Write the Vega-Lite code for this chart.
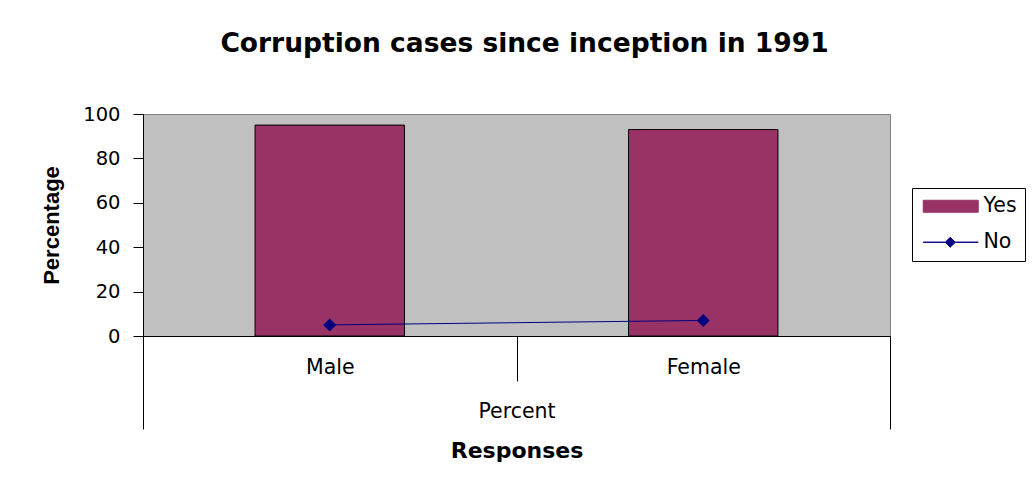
{
  "$schema": "https://vega.github.io/schema/vega-lite/v6.json",
  "width": 747,
  "height": 222,
  "autosize": {"type": "none"},
  "padding": {"left": 143, "top": 114, "right": 142, "bottom": 150},
  "background": "white",
  "title": {
    "text": "Corruption cases since inception in 1991",
    "font": "DejaVu Sans",
    "fontSize": 26.5,
    "fontWeight": "bold",
    "color": "black",
    "anchor": "middle",
    "frame": "group",
    "offset": 26,
    "baseline": "alphabetic",
    "dx": 8
  },
  "config": {
    "view": {"fill": "#C0C0C0", "stroke": "#808080", "strokeWidth": 1},
    "axis": {
      "grid": false,
      "domainColor": "black",
      "tickColor": "black",
      "labelColor": "black",
      "titleColor": "black",
      "domainWidth": 1,
      "tickWidth": 1
    }
  },
  "data": {
    "values": [
      {"gender": "Male", "response": "Yes", "value": 95, "group": "Percent"},
      {"gender": "Female", "response": "Yes", "value": 93, "group": "Percent"},
      {"gender": "Male", "response": "No", "value": 5, "group": "Percent"},
      {"gender": "Female", "response": "No", "value": 7, "group": "Percent"}
    ]
  },
  "layer": [
    {
      "layer": [
        {
          "transform": [{"filter": "datum.response === 'Yes'"}],
          "mark": {"type": "bar", "stroke": "black", "strokeWidth": 1, "width": {"band": 0.4}},
          "encoding": {
            "x": {
              "field": "gender",
              "type": "nominal",
              "sort": ["Male", "Female"],
              "scale": {"paddingInner": 0, "paddingOuter": 0},
              "axis": {
                "title": null,
                "orient": "bottom",
                "tickBand": "extent",
                "tickSize": 45,
                "labelPadding": -24,
                "labelFont": "DejaVu Sans",
                "labelFontSize": 20.5,
                "labelAngle": 0
              }
            },
            "y": {
              "field": "value",
              "type": "quantitative",
              "title": "Percentage",
              "scale": {"domain": [0, 100], "nice": false},
              "axis": {
                "values": [0, 20, 40, 60, 80, 100],
                "tickSize": 10,
                "labelPadding": 13,
                "labelFont": "DejaVu Sans",
                "labelFontSize": 19.5,
                "titleFont": "Liberation Sans",
                "titleFontSize": 22,
                "titleFontWeight": "bold",
                "titlePadding": 19
              }
            },
            "color": {
              "field": "response",
              "type": "nominal",
              "scale": {"domain": ["Yes", "No"], "range": ["#993366", "#000080"]},
              "legend": {
                "title": null,
                "orient": "none",
                "legendX": 769,
                "legendY": 74,
                "strokeColor": "black",
                "fillColor": "white",
                "padding": 8,
                "labelFont": "DejaVu Sans",
                "labelFontSize": 20.5,
                "labelColor": "black",
                "labelExpr": "datum.label + '\u00a0\u00a0'",
                "symbolSize": 144,
                "rowPadding": 15,
                "labelOffset": 43,
                "encoding": {
                  "symbols": {
                    "shape": {"value": {"expr": "datum.value === 'Yes' ? 'M-1.17,-1H8V1H-1.17Z' : 'M-1.17,0H2.5L3.33,-0.83L4.17,0H8H4.17L3.33,0.83L2.5,0Z'"}},
                    "fill": {"value": {"expr": "datum.value === 'Yes' ? '#993366' : '#000080'"}},
                    "stroke": {"value": {"expr": "datum.value === 'Yes' ? 'black' : '#000080'"}},
                    "strokeWidth": {"value": 1},
                    "opacity": {"value": 1}
                  }
                }
              }
            }
          }
        },
        {
          "transform": [{"filter": "datum.response === 'No'"}],
          "mark": {
            "type": "line",
            "strokeWidth": 1,
            "point": {"shape": "diamond", "size": 170, "filled": true}
          },
          "encoding": {
            "x": {"field": "gender", "type": "nominal", "sort": ["Male", "Female"]},
            "y": {"field": "value", "type": "quantitative", "title": "Percentage"},
            "color": {"field": "response", "type": "nominal"}
          }
        }
      ]
    },
    {
      "mark": {"type": "point", "opacity": 0},
      "encoding": {
        "x": {
          "field": "group",
          "type": "nominal",
          "scale": {"type": "band", "paddingInner": 0, "paddingOuter": 0},
          "axis": {
            "title": "Responses",
            "orient": "bottom",
            "tickBand": "extent",
            "tickSize": 93,
            "domain": false,
            "labelPadding": -28,
            "labelFont": "DejaVu Sans",
            "labelFontSize": 20.5,
            "labelAngle": 0,
            "titleFont": "DejaVu Sans",
            "titleFontSize": 22,
            "titleFontWeight": "bold",
            "titlePadding": 11
          }
        },
        "y": {"field": "value", "type": "quantitative", "title": "Percentage"}
      }
    }
  ],
  "resolve": {"scale": {"x": "independent"}, "axis": {"x": "independent"}}
}
